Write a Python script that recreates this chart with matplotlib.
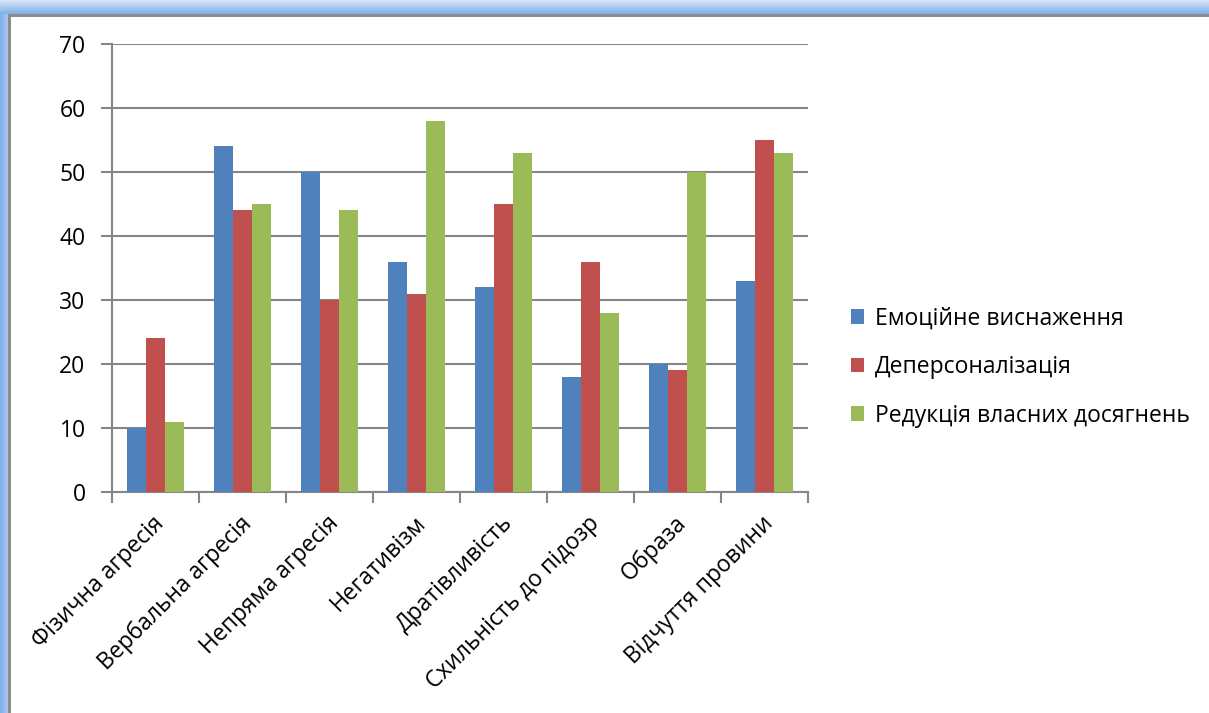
import numpy as np
import matplotlib.pyplot as plt
from matplotlib.patches import Rectangle
from matplotlib.colors import LinearSegmentedColormap
import matplotlib.transforms as mtransforms

plt.rcParams['font.family'] = ['Open Sans', 'DejaVu Sans']

# categories and series values
categories = ['Фізична агресія', 'Вербальна агресія', 'Непряма агресія', 'Негативізм',
              'Дратівливість', 'Схильність до підозр', 'Образа', 'Відчуття провини']
emotional = [10, 54, 50, 36, 32, 18, 20, 33]
depersonal = [24, 44, 30, 31, 45, 36, 19, 55]
reduction = [11, 45, 44, 58, 53, 28, 50, 53]
series_names = ['Емоційне виснаження', 'Деперсоналізація', 'Редукція власних досягнень']
colors = ['#4F81BD', '#C0504D', '#9BBB59']
grid_color = '#868686'

fig = plt.figure(figsize=(12.09, 7.13), dpi=100)

# window-like frame (blue gradient strip at top and left, gray edge)
frame = fig.add_axes([0, 0, 1, 1], zorder=-1)
frame.axis('off')
top_cmap = LinearSegmentedColormap.from_list('top', ['#d6e6f8', '#7fb0e8'])
left_cmap = LinearSegmentedColormap.from_list('left', ['#7fb0e8', '#a9c9f0'])
frame.imshow(np.linspace(0, 1, 64).reshape(-1, 1), extent=[0, 1209, 14, 0], cmap=top_cmap, aspect='auto')
frame.imshow(np.linspace(0, 1, 64).reshape(1, -1), extent=[0, 8, 713, 14], cmap=left_cmap, aspect='auto')
frame.add_patch(Rectangle((8, 14), 1209, 2.5, color='#8c8c8c', lw=0))
frame.add_patch(Rectangle((8, 14), 2.5, 713, color='#8c8c8c', lw=0))
frame.set_xlim(0, 1209)
frame.set_ylim(713, 0)

ax = fig.add_axes([112 / 1209, 1 - 492 / 713, (808 - 112) / 1209, (492 - 44) / 713])
x = np.arange(len(categories))
w = 0.218
for i, vals in enumerate([emotional, depersonal, reduction]):
    ax.bar(x + (i - 1) * w, vals, width=w, color=colors[i], label=series_names[i], zorder=3)

ax.set_xlim(-0.5, len(categories) - 0.5)
ax.set_ylim(0, 70)
ax.set_yticks(range(0, 71, 10))
ax.yaxis.grid(True, color=grid_color, lw=1.5, zorder=0)
ax.tick_params(axis='y', length=8, width=1.5, color=grid_color, labelsize=16.5, pad=11)

ax.set_xticks(x)
ax.set_xticklabels(categories, rotation=45, ha='right', va='top', rotation_mode='anchor', fontsize=16.5)
ax.set_xticks(np.arange(-0.5, len(categories), 1), minor=True)
ax.tick_params(axis='x', which='major', length=0, pad=14)
ax.tick_params(axis='x', which='minor', length=8, width=1.5, color=grid_color)
shift = mtransforms.ScaledTranslation(-3 / 100, 0, fig.dpi_scale_trans)
for lbl in ax.get_xticklabels():
    lbl.set_transform(lbl.get_transform() + shift)

for side in ['top', 'right']:
    ax.spines[side].set_visible(False)
for side in ['left', 'bottom']:
    ax.spines[side].set_color(grid_color)
    ax.spines[side].set_linewidth(1.5)

fig.legend(loc='center left', bbox_to_anchor=(830 / 1209, 1 - 367 / 713), frameon=False,
           fontsize=16.5, handlelength=0.6, handleheight=0.6, handletextpad=0.45,
           labelspacing=1.07)

fig.savefig('out.png', dpi=100)
